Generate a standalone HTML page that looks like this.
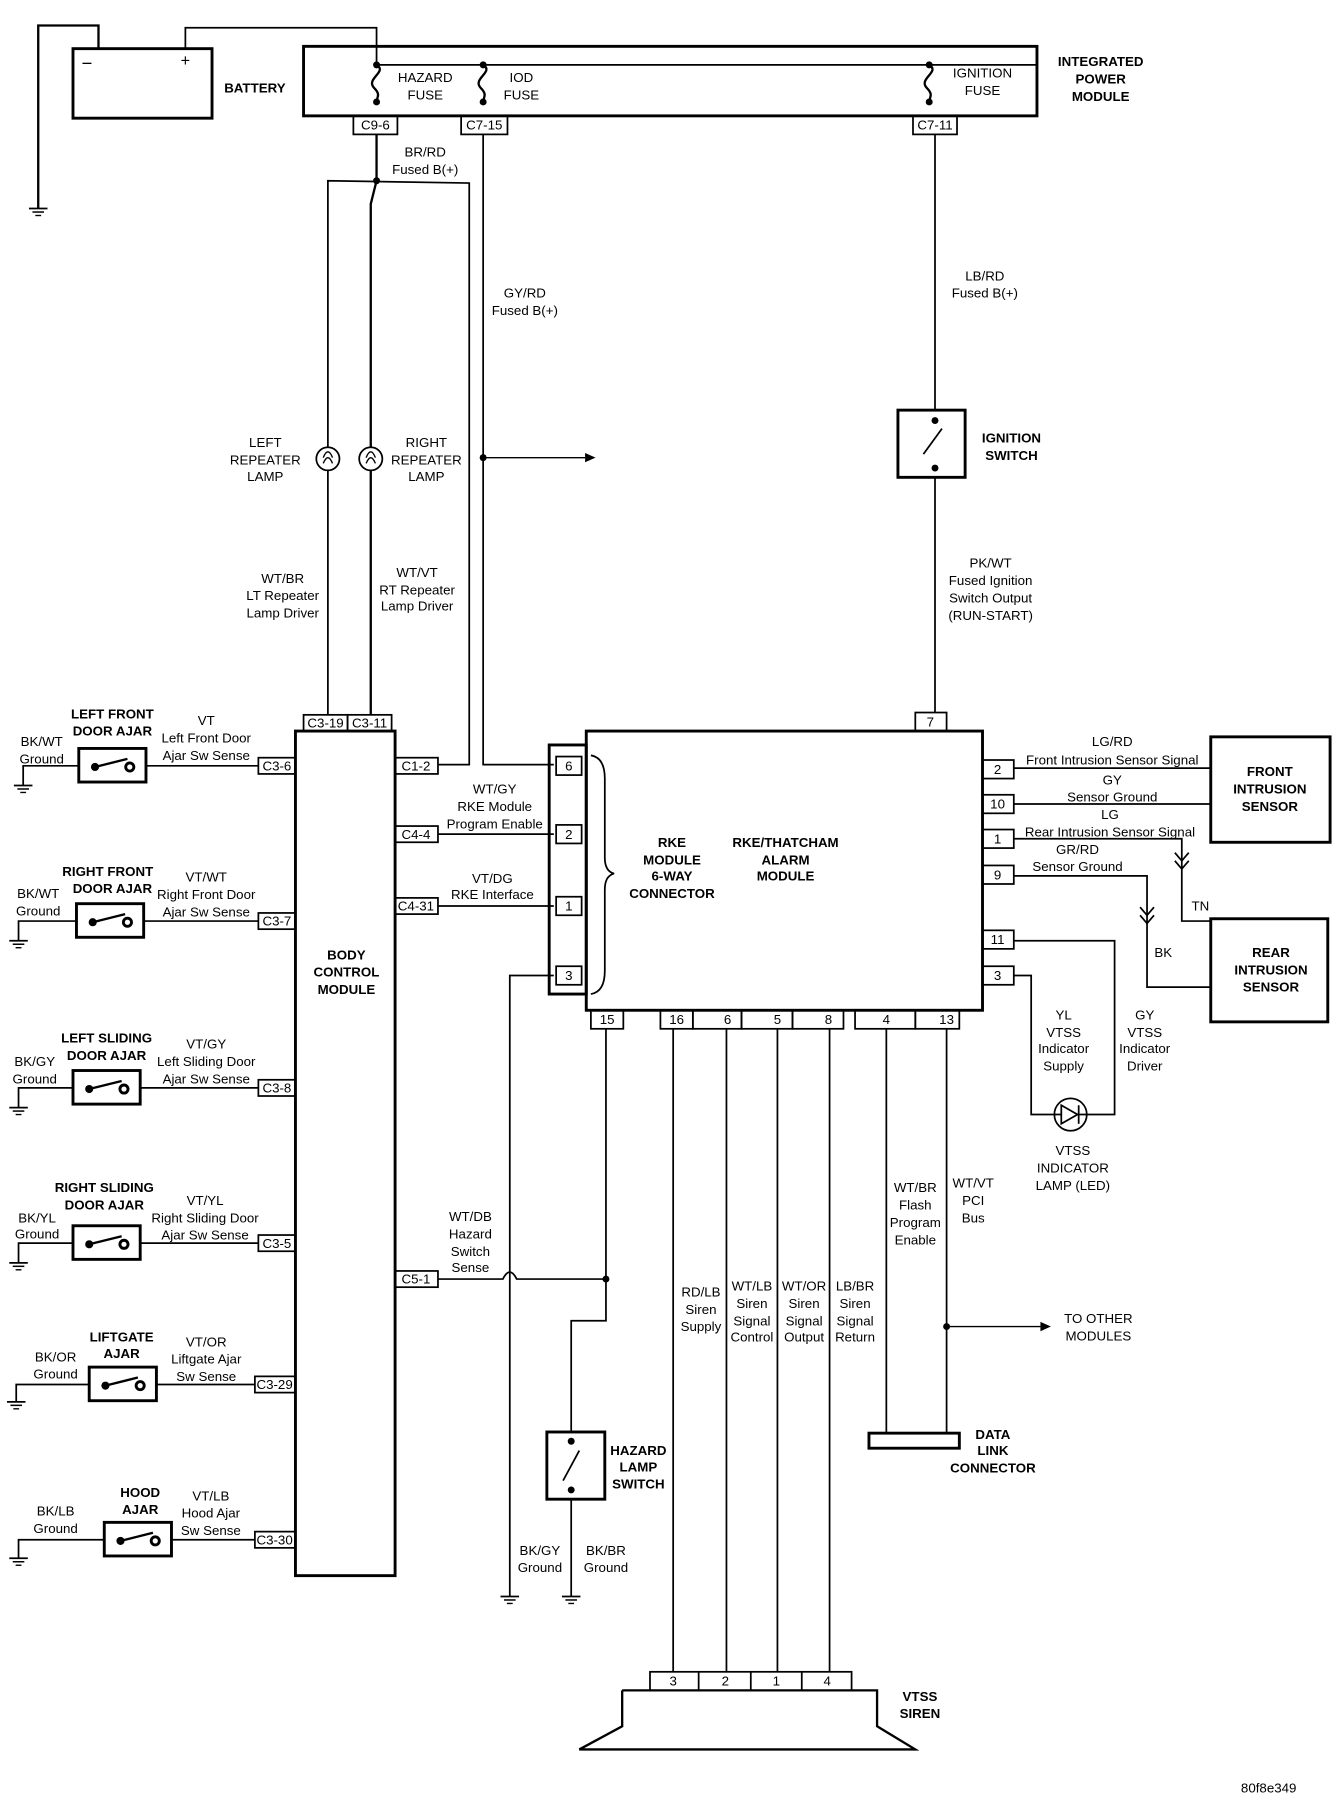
<!DOCTYPE html>
<html><head><meta charset="utf-8"><style>
html,body{margin:0;padding:0;background:#fff;}
svg{display:block;}
text{font-family:"Liberation Sans",sans-serif;font-size:11.5px;fill:#000;text-anchor:middle;}
.b{font-weight:bold;font-size:11.5px;}
</style></head><body>
<svg width="1344" height="1812" viewBox="0 0 1160 1564" preserveAspectRatio="none" xmlns="http://www.w3.org/2000/svg">
<defs>
<g id="gnd"><line x1="-8" y1="0" x2="8" y2="0" stroke="#000" stroke-width="1.5"/><line x1="-5" y1="3" x2="5" y2="3" stroke="#000" stroke-width="1.3"/><line x1="-2.5" y1="6" x2="2.5" y2="6" stroke="#000" stroke-width="1.2"/></g>
<g id="sw"><rect x="0" y="-14" width="58" height="29" fill="none" stroke="#000" stroke-width="2.5"/><circle cx="14" cy="2" r="3.5" fill="#000"/><circle cx="44" cy="2" r="3.5" fill="#fff" stroke="#000" stroke-width="2.5"/><line x1="14" y1="2" x2="42" y2="-5" stroke="#000" stroke-width="2"/></g>
</defs>
<g fill="none" stroke="#000" stroke-width="2">
<!-- battery -->
<rect x="63" y="42" width="120" height="60" stroke-width="2.5"/>
<polyline points="33,180 33,22 85,22 85,42"/>
<polyline points="160,42 160,24 325,24 325,56" stroke-width="1.5"/>
<!-- IPM -->
<rect x="262" y="40" width="633" height="60" stroke-width="2.5"/>
<line x1="325" y1="56" x2="895" y2="56" stroke-width="1.5"/>
<path d="M325,56 c10,6 -10,12 -2,20 c6,6 2,8 2,12"/>
<path d="M417,56 c10,6 -10,12 -2,20 c6,6 2,8 2,12"/>
<path d="M802,56 c10,6 -10,12 -2,20 c6,6 2,8 2,12"/>
<rect x="305" y="100" width="38" height="16" stroke-width="1.5"/>
<rect x="398" y="100" width="40" height="16" stroke-width="1.5"/>
<rect x="788" y="100" width="38" height="16" stroke-width="1.5"/>
<!-- BR/RD -->
<line x1="325" y1="116" x2="325" y2="156"/>
<polyline points="283,617 283,156 405,158 405,660 378,660" stroke-width="1.5"/>
<polyline points="325,156 320,176 320,617"/>
<circle cx="283" cy="396" r="10" fill="#fff" stroke-width="1.5"/>
<circle cx="320" cy="396" r="10" fill="#fff" stroke-width="1.5"/>
<path d="M279,400 q4,-10 8,0 M279,395 q4,-10 8,0" stroke-width="1.2"/>
<path d="M316,400 q4,-10 8,0 M316,395 q4,-10 8,0" stroke-width="1.2"/>
<!-- GY/RD -->
<polyline points="417,116 417,660 478,660" stroke-width="1.5"/>
<line x1="417" y1="395" x2="505" y2="395" stroke-width="1.2"/>
<!-- LB/RD ignition -->
<line x1="807" y1="116" x2="807" y2="354" stroke-width="1.5"/>
<rect x="775" y="354" width="58" height="58" stroke-width="2.5"/>
<line x1="797" y1="392" x2="813" y2="370" stroke-width="1.5"/>
<line x1="807" y1="412" x2="807" y2="615" stroke-width="1.5"/>
<rect x="790" y="615" width="27" height="16" stroke-width="1.5"/>
<!-- BCM -->
<rect x="255" y="631" width="86" height="729" stroke-width="2.5"/>
<rect x="262" y="617" width="38" height="14" stroke-width="1.5"/>
<rect x="300" y="617" width="38" height="14" stroke-width="1.5"/>
<!-- left boxes -->
<rect x="223" y="654" width="32" height="14" stroke-width="1.5"/>
<rect x="223" y="788" width="32" height="14" stroke-width="1.5"/>
<rect x="223" y="932" width="32" height="14" stroke-width="1.5"/>
<rect x="223" y="1066" width="32" height="14" stroke-width="1.5"/>
<rect x="220" y="1188" width="35" height="14" stroke-width="1.5"/>
<rect x="220" y="1322" width="35" height="14" stroke-width="1.5"/>
<!-- row wires -->
<polyline points="223,661 126,661" stroke-width="1.5"/><polyline points="68,661 20,661 20,678" stroke-width="1.5"/>
<polyline points="223,795 124,795" stroke-width="1.5"/><polyline points="66,795 16,795 16,812" stroke-width="1.5"/>
<polyline points="223,939 121,939" stroke-width="1.5"/><polyline points="63,939 16,939 16,956" stroke-width="1.5"/>
<polyline points="223,1073 121,1073" stroke-width="1.5"/><polyline points="63,1073 16,1073 16,1090" stroke-width="1.5"/>
<polyline points="220,1195 135,1195" stroke-width="1.5"/><polyline points="77,1195 14,1195 14,1210" stroke-width="1.5"/>
<polyline points="220,1329 148,1329" stroke-width="1.5"/><polyline points="90,1329 16,1329 16,1345" stroke-width="1.5"/>
<!-- right boxes of BCM -->
<rect x="341" y="654" width="37" height="14" stroke-width="1.5"/>
<rect x="341" y="713" width="37" height="14" stroke-width="1.5"/>
<rect x="341" y="775" width="37" height="14" stroke-width="1.5"/>
<rect x="341" y="1097" width="37" height="14" stroke-width="1.5"/>
<line x1="378" y1="720" x2="478" y2="720" stroke-width="1.5"/>
<line x1="378" y1="782" x2="478" y2="782" stroke-width="1.5"/>
<path d="M378,1104 L434,1104 q6,-12 12,0 L523,1104" stroke-width="1.5"/>
<polyline points="478,842 440,842 440,1378" stroke-width="1.5"/>
<polyline points="523,888 523,1140 493,1140 493,1236" stroke-width="1.5"/>
<rect x="472" y="1236" width="50" height="58" stroke-width="2.5"/>
<line x1="486" y1="1278" x2="500" y2="1252" stroke-width="1.5"/>
<line x1="493" y1="1294" x2="493" y2="1378" stroke-width="1.5"/>
<!-- RKE connector -->
<rect x="474" y="643" width="32" height="215" stroke-width="2.5"/>
<rect x="480" y="653" width="22" height="16" stroke-width="1.5"/>
<rect x="480" y="712" width="22" height="16" stroke-width="1.5"/>
<rect x="480" y="774" width="22" height="16" stroke-width="1.5"/>
<rect x="480" y="834" width="22" height="16" stroke-width="1.5"/>
<path d="M510,652 q12,2 12,20 L522,740 q0,12 8,14 q-8,2 -8,14 L522,838 q0,18 -12,20" stroke-width="1.5"/>
<!-- main module -->
<rect x="506" y="631" width="342" height="241" stroke-width="2.5"/>
<rect x="848" y="656" width="27" height="16" stroke-width="1.5"/>
<rect x="848" y="686" width="27" height="16" stroke-width="1.5"/>
<rect x="848" y="716" width="27" height="16" stroke-width="1.5"/>
<rect x="848" y="747" width="27" height="16" stroke-width="1.5"/>
<rect x="848" y="803" width="27" height="16" stroke-width="1.5"/>
<rect x="848" y="834" width="27" height="16" stroke-width="1.5"/>
<!-- right wires -->
<line x1="875" y1="663" x2="1045" y2="663" stroke-width="1.5"/>
<line x1="875" y1="694" x2="1045" y2="694" stroke-width="1.5"/>
<polyline points="875,724 1020,724 1020,795 1045,795" stroke-width="1.5"/>
<polyline points="875,756 990,756 990,852 1045,852" stroke-width="1.5"/>
<path d="M1014,736 l6,7 l6,-7 M1014,743 l6,7 l6,-7" stroke-width="1.5"/>
<path d="M984,783 l6,7 l6,-7 M984,790 l6,7 l6,-7" stroke-width="1.5"/>
<rect x="1045" y="636" width="103" height="91" stroke-width="2.5"/>
<rect x="1045" y="793" width="101" height="89" stroke-width="2.5"/>
<polyline points="875,812 962,812 962,962 938,962" stroke-width="1.5"/>
<polyline points="875,842 890,842 890,962 910,962" stroke-width="1.5"/>
<circle cx="924" cy="962" r="14" fill="#fff" stroke-width="1.5"/>
<line x1="910" y1="962" x2="938" y2="962" stroke-width="1.5"/>
<polygon points="916,954 916,970 930,962" fill="#fff" stroke-width="1.5"/>
<line x1="931" y1="954" x2="931" y2="970" stroke-width="1.5"/>
<!-- bottom pins -->
<rect x="510" y="872" width="28" height="16" stroke-width="1.5"/>
<rect x="570" y="872" width="28" height="16" stroke-width="1.5"/>
<rect x="598" y="872" width="42" height="16" stroke-width="1.5"/>
<rect x="640" y="872" width="44" height="16" stroke-width="1.5"/>
<rect x="684" y="872" width="44" height="16" stroke-width="1.5"/>
<rect x="738" y="872" width="52" height="16" stroke-width="1.5"/>
<rect x="790" y="872" width="38" height="16" stroke-width="1.5"/>
<line x1="581" y1="888" x2="581" y2="1443" stroke-width="1.5"/>
<line x1="627" y1="888" x2="627" y2="1443" stroke-width="1.5"/>
<line x1="671" y1="888" x2="671" y2="1443" stroke-width="1.5"/>
<line x1="716" y1="888" x2="716" y2="1443" stroke-width="1.5"/>
<line x1="765" y1="888" x2="765" y2="1237" stroke-width="1.5"/>
<line x1="817" y1="888" x2="817" y2="1237" stroke-width="1.5"/>
<line x1="817" y1="1145" x2="898" y2="1145" stroke-width="1.2"/>
<rect x="750" y="1237" width="78" height="13" stroke-width="2.5"/>
<!-- siren -->
<rect x="561" y="1443" width="174" height="16" stroke-width="1.5"/>
<line x1="603" y1="1443" x2="603" y2="1459" stroke-width="1.5"/>
<line x1="648" y1="1443" x2="648" y2="1459" stroke-width="1.5"/>
<line x1="692" y1="1443" x2="692" y2="1459" stroke-width="1.5"/>
<polyline points="537,1459 757,1459 757,1490 790,1510 500,1510 537,1490 537,1459" stroke-width="2"/>
</g>
<!-- dots & arrows -->
<g fill="#000">
<circle cx="325" cy="56" r="3"/><circle cx="417" cy="56" r="3"/><circle cx="802" cy="56" r="3"/>
<circle cx="325" cy="88" r="3"/><circle cx="417" cy="88" r="3"/><circle cx="802" cy="88" r="3"/>
<circle cx="325" cy="156" r="3"/><circle cx="417" cy="395" r="3"/>
<circle cx="807" cy="363" r="3"/><circle cx="807" cy="404" r="3"/>
<circle cx="493" cy="1244" r="3"/><circle cx="493" cy="1286" r="3"/>
<circle cx="523" cy="1104" r="3"/><circle cx="817" cy="1145" r="3"/>
<polygon points="505,391 514,395 505,399"/>
<polygon points="898,1141 907,1145 898,1149"/>
</g>
<use href="#gnd" x="33" y="180"/>
<use href="#gnd" x="20" y="678"/><use href="#gnd" x="16" y="812"/><use href="#gnd" x="16" y="956"/>
<use href="#gnd" x="16" y="1090"/><use href="#gnd" x="14" y="1210"/><use href="#gnd" x="16" y="1345"/>
<use href="#gnd" x="440" y="1378"/><use href="#gnd" x="493" y="1378"/>
<use href="#sw" x="68" y="660"/><use href="#sw" x="66" y="794"/><use href="#sw" x="63" y="938"/>
<use href="#sw" x="63" y="1072"/><use href="#sw" x="77" y="1194"/><use href="#sw" x="90" y="1328"/>
<!-- text -->
<text x="75" y="60" style="font-size:16px">−</text><text x="160" y="57" style="font-size:14px">+</text>
<text class="b" x="220" y="80">BATTERY</text>
<text x="367" y="71">HAZARD</text><text x="367" y="86">FUSE</text>
<text x="450" y="71">IOD</text><text x="450" y="86">FUSE</text>
<text x="848" y="67">IGNITION</text><text x="848" y="82">FUSE</text>
<text class="b" x="950" y="57">INTEGRATED</text><text class="b" x="950" y="72">POWER</text><text class="b" x="950" y="87">MODULE</text>
<g style="font-size:10px"><text x="324" y="112">C9-6</text><text x="418" y="112">C7-15</text><text x="807" y="112">C7-11</text></g>
<text x="367" y="135">BR/RD</text><text x="367" y="150">Fused B(+)</text>
<text x="453" y="257">GY/RD</text><text x="453" y="272">Fused B(+)</text>
<text x="850" y="242">LB/RD</text><text x="850" y="257">Fused B(+)</text>
<text class="b" x="873" y="382">IGNITION</text><text class="b" x="873" y="397">SWITCH</text>
<text x="229" y="386">LEFT</text><text x="229" y="401">REPEATER</text><text x="229" y="415">LAMP</text>
<text x="368" y="386">RIGHT</text><text x="368" y="401">REPEATER</text><text x="368" y="415">LAMP</text>
<text x="244" y="503">WT/BR</text><text x="244" y="518">LT Repeater</text><text x="244" y="533">Lamp Driver</text>
<text x="360" y="498">WT/VT</text><text x="360" y="513">RT Repeater</text><text x="360" y="527">Lamp Driver</text>
<text x="855" y="490">PK/WT</text><text x="855" y="505">Fused Ignition</text><text x="855" y="520">Switch Output</text><text x="855" y="535">(RUN-START)</text>
<g style="font-size:10px"><text x="281" y="628">C3-19</text><text x="319" y="628">C3-11</text>
<text x="239" y="665">C3-6</text><text x="239" y="799">C3-7</text><text x="239" y="943">C3-8</text><text x="239" y="1077">C3-5</text><text x="237" y="1199">C3-29</text><text x="237" y="1333">C3-30</text>
<text x="359" y="665">C1-2</text><text x="359" y="724">C4-4</text><text x="359" y="786">C4-31</text><text x="359" y="1108">C5-1</text>
<text x="803" y="627">7</text>
<text x="491" y="665">6</text><text x="491" y="724">2</text><text x="491" y="786">1</text><text x="491" y="846">3</text>
<text x="861" y="668">2</text><text x="861" y="698">10</text><text x="861" y="728">1</text><text x="861" y="759">9</text><text x="861" y="815">11</text><text x="861" y="846">3</text>
<text x="524" y="884">15</text><text x="584" y="884">16</text><text x="628" y="884">6</text><text x="671" y="884">5</text><text x="715" y="884">8</text><text x="765" y="884">4</text><text x="817" y="884">13</text>
<text x="581" y="1455">3</text><text x="626" y="1455">2</text><text x="670" y="1455">1</text><text x="714" y="1455">4</text></g>
<text class="b" x="299" y="828">BODY</text><text class="b" x="299" y="843">CONTROL</text><text class="b" x="299" y="858">MODULE</text>
<text class="b" x="97" y="620">LEFT FRONT</text><text class="b" x="97" y="635">DOOR AJAR</text>
<text x="36" y="644">BK/WT</text><text x="36" y="659">Ground</text>
<text x="178" y="626">VT</text><text x="178" y="641">Left Front Door</text><text x="178" y="656">Ajar Sw Sense</text>
<text class="b" x="93" y="756">RIGHT FRONT</text><text class="b" x="97" y="771">DOOR AJAR</text>
<text x="33" y="775">BK/WT</text><text x="33" y="790">Ground</text>
<text x="178" y="761">VT/WT</text><text x="178" y="776">Right Front Door</text><text x="178" y="791">Ajar Sw Sense</text>
<text class="b" x="92" y="900">LEFT SLIDING</text><text class="b" x="92" y="915">DOOR AJAR</text>
<text x="30" y="920">BK/GY</text><text x="30" y="935">Ground</text>
<text x="178" y="905">VT/GY</text><text x="178" y="920">Left Sliding Door</text><text x="178" y="935">Ajar Sw Sense</text>
<text class="b" x="90" y="1029">RIGHT SLIDING</text><text class="b" x="90" y="1044">DOOR AJAR</text>
<text x="32" y="1055">BK/YL</text><text x="32" y="1069">Ground</text>
<text x="177" y="1040">VT/YL</text><text x="177" y="1055">Right Sliding Door</text><text x="177" y="1070">Ajar Sw Sense</text>
<text class="b" x="105" y="1158">LIFTGATE</text><text class="b" x="105" y="1172">AJAR</text>
<text x="48" y="1175">BK/OR</text><text x="48" y="1190">Ground</text>
<text x="178" y="1162">VT/OR</text><text x="178" y="1177">Liftgate Ajar</text><text x="178" y="1192">Sw Sense</text>
<text class="b" x="121" y="1292">HOOD</text><text class="b" x="121" y="1307">AJAR</text>
<text x="48" y="1308">BK/LB</text><text x="48" y="1323">Ground</text>
<text x="182" y="1295">VT/LB</text><text x="182" y="1310">Hood Ajar</text><text x="182" y="1325">Sw Sense</text>
<text x="427" y="685">WT/GY</text><text x="427" y="700">RKE Module</text><text x="427" y="715">Program Enable</text>
<text x="425" y="762">VT/DG</text><text x="425" y="776">RKE Interface</text>
<text x="406" y="1054">WT/DB</text><text x="406" y="1069">Hazard</text><text x="406" y="1084">Switch</text><text x="406" y="1098">Sense</text>
<text class="b" x="551" y="1256">HAZARD</text><text class="b" x="551" y="1270">LAMP</text><text class="b" x="551" y="1285">SWITCH</text>
<text x="466" y="1342">BK/GY</text><text x="466" y="1357">Ground</text>
<text x="523" y="1342">BK/BR</text><text x="523" y="1357">Ground</text>
<text class="b" x="580" y="731">RKE</text><text class="b" x="580" y="746">MODULE</text><text class="b" x="580" y="760">6-WAY</text><text class="b" x="580" y="775">CONNECTOR</text>
<text class="b" x="678" y="731">RKE/THATCHAM</text><text class="b" x="678" y="746">ALARM</text><text class="b" x="678" y="760">MODULE</text>
<text x="960" y="644">LG/RD</text><text x="960" y="660">Front Intrusion Sensor Signal</text>
<text x="960" y="677">GY</text><text x="960" y="692">Sensor Ground</text>
<text x="958" y="707">LG</text><text x="958" y="722">Rear Intrusion Sensor Signal</text>
<text x="930" y="737">GR/RD</text><text x="930" y="752">Sensor Ground</text>
<text x="1036" y="786">TN</text><text x="1004" y="826">BK</text>
<text class="b" x="1096" y="670">FRONT</text><text class="b" x="1096" y="685">INTRUSION</text><text class="b" x="1096" y="700">SENSOR</text>
<text class="b" x="1097" y="826">REAR</text><text class="b" x="1097" y="841">INTRUSION</text><text class="b" x="1097" y="856">SENSOR</text>
<text x="918" y="880">YL</text><text x="918" y="895">VTSS</text><text x="918" y="909">Indicator</text><text x="918" y="924">Supply</text>
<text x="988" y="880">GY</text><text x="988" y="895">VTSS</text><text x="988" y="909">Indicator</text><text x="988" y="924">Driver</text>
<text x="926" y="997">VTSS</text><text x="926" y="1012">INDICATOR</text><text x="926" y="1027">LAMP (LED)</text>
<text x="605" y="1119">RD/LB</text><text x="605" y="1134">Siren</text><text x="605" y="1149">Supply</text>
<text x="649" y="1114">WT/LB</text><text x="649" y="1129">Siren</text><text x="649" y="1144">Signal</text><text x="649" y="1158">Control</text>
<text x="694" y="1114">WT/OR</text><text x="694" y="1129">Siren</text><text x="694" y="1144">Signal</text><text x="694" y="1158">Output</text>
<text x="738" y="1114">LB/BR</text><text x="738" y="1129">Siren</text><text x="738" y="1144">Signal</text><text x="738" y="1158">Return</text>
<text x="790" y="1029">WT/BR</text><text x="790" y="1044">Flash</text><text x="790" y="1059">Program</text><text x="790" y="1074">Enable</text>
<text x="840" y="1025">WT/VT</text><text x="840" y="1040">PCI</text><text x="840" y="1055">Bus</text>
<text x="948" y="1142">TO OTHER</text><text x="948" y="1157">MODULES</text>
<text class="b" x="857" y="1242">DATA</text><text class="b" x="857" y="1256">LINK</text><text class="b" x="857" y="1271">CONNECTOR</text>
<text class="b" x="794" y="1468">VTSS</text><text class="b" x="794" y="1483">SIREN</text>
<text x="1095" y="1547">80f8e349</text>
</svg>
</body></html>
